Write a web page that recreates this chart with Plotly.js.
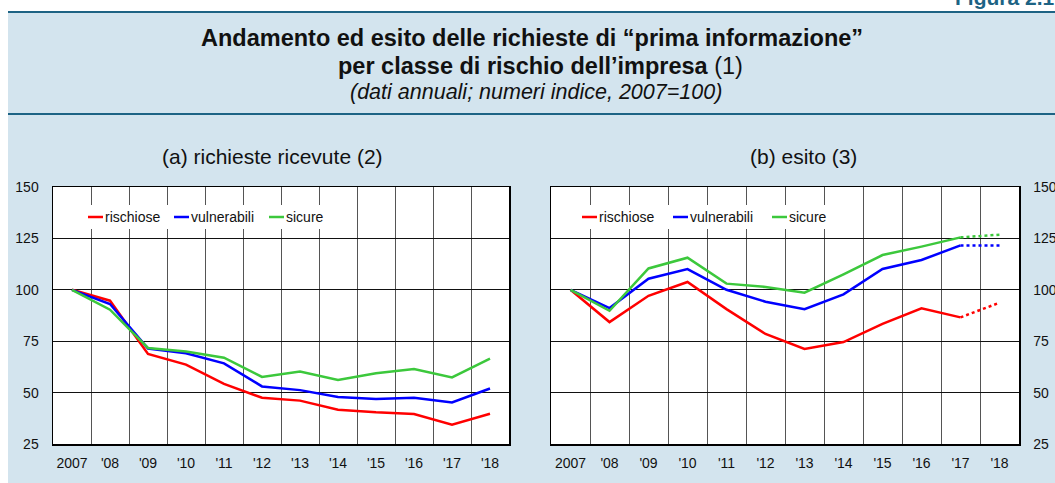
<!DOCTYPE html>
<html><head><meta charset="utf-8">
<script src="https://cdn.plot.ly/plotly-3.0.1.min.js"></script>
<style>
html,body{margin:0;padding:0;background:#fff;overflow:hidden;}
#bg{position:absolute;left:8px;top:12px;width:1047px;height:471px;background:#d3e4ee;}
#l1{position:absolute;left:8px;top:11px;width:1047px;height:2px;background:#1d6384;}
#l2{position:absolute;left:8px;top:113px;width:1047px;height:2px;background:#1d6384;}
#chart{position:absolute;left:0;top:0;width:1055px;height:483px;}
</style></head>
<body>
<div id="bg"></div><div id="l1"></div><div id="l2"></div>
<div id="chart"></div>
<script>
// ---- data ----
const years = ['2007', "'08", "'09", "'10", "'11", "'12", "'13", "'14", "'15", "'16", "'17", "'18"];
const seriesNames = ['rischiose', 'vulnerabili', 'sicure'];
const seriesColors = ['#ff0000', '#0000ff', '#3cc83c'];
// (a) richieste ricevute
const richiesteRischiose   = [100, 94.7, 68.8, 63.6, 54.2, 47.5, 46.1, 41.7, 40.4, 39.6, 34.4, 39.7];
const richiesteVulnerabili = [100, 93.1, 71.4, 69.1, 64.2, 53.0, 51.2, 47.9, 46.9, 47.5, 45.2, 52.0];
const richiesteSicure      = [100, 90.3, 71.7, 70.0, 67.0, 57.6, 60.2, 56.1, 59.4, 61.5, 57.4, 66.5];
// (b) esito (last value = provisional, dotted)
const esitoRischiose   = [100, 84.3, 97.1, 103.8, 90.6, 78.5, 71.2, 74.6, 83.4, 91.0, 86.6, 93.7];
const esitoVulnerabili = [100, 91.1, 105.4, 110.1, 100.0, 94.2, 90.6, 97.8, 110.1, 114.5, 121.6, 121.6];
const esitoSicure      = [100, 89.8, 110.4, 115.6, 103.0, 101.4, 98.6, 107.5, 116.9, 121.0, 125.5, 126.8];
const yTicks = [25, 50, 75, 100, 125, 150];
const nDefinitive = 11; // 2007-'17 solid, '17-'18 dotted

// ---- layout helpers (pixels -> paper) ----
const FW = 1055, FH = 483;
const L = 53, R = 36, T = 187, B = 39;
const W = FW - L - R, H = FH - T - B;
const fx = p => (p - L) / W;
const fy = p => 1 - (p - T) / H;
const FONT = 'Liberation Sans, Arial, Helvetica, sans-serif';
const TXT = '#111';

const richieste = [richiesteRischiose, richiesteVulnerabili, richiesteSicure];
const esito = [esitoRischiose, esitoVulnerabili, esitoSicure];
const traces = [];
richieste.forEach((arr, i) => traces.push({
  x: years, y: arr, type: 'scatter', mode: 'lines', name: seriesNames[i],
  xaxis: 'x', yaxis: 'y', line: {color: seriesColors[i], width: 2.5}, showlegend: false, hoverinfo: 'skip'
}));
esito.forEach((arr, i) => {
  traces.push({
    x: years.slice(0, nDefinitive), y: arr.slice(0, nDefinitive), type: 'scatter', mode: 'lines',
    name: seriesNames[i], xaxis: 'x2', yaxis: 'y2', line: {color: seriesColors[i], width: 2.5},
    showlegend: false, hoverinfo: 'skip'
  });
  traces.push({
    x: years.slice(nDefinitive - 1), y: arr.slice(nDefinitive - 1), type: 'scatter', mode: 'lines',
    name: seriesNames[i], xaxis: 'x2', yaxis: 'y2', line: {color: seriesColors[i], width: 2.5, dash: 'dot'},
    showlegend: false, hoverinfo: 'skip'
  });
});

const xCommon = {
  type: 'category', categoryorder: 'array', categoryarray: years, range: [-0.5, 11.5],
  tickson: 'boundaries', showgrid: true, gridcolor: '#555', gridwidth: 1, tickangle: 0,
  showline: true, mirror: true, linecolor: '#000', linewidth: 1.5, ticks: '',
  tickfont: {family: FONT, size: 14, color: TXT}, ticklabelstandoff: 6, zeroline: false, fixedrange: true
};
const yCommon = {
  range: [25, 150], tickvals: yTicks, showgrid: true, gridcolor: '#111', gridwidth: 1,
  showline: true, mirror: true, linecolor: '#000', linewidth: 1.5, ticks: '',
  tickfont: {family: FONT, size: 14, color: TXT}, ticklabelstandoff: 10, zeroline: false, fixedrange: true
};

const annotations = [];
const shapes = [];
function addText(text, px, py, size, opts) {
  annotations.push(Object.assign({
    text: text, xref: 'paper', yref: 'paper', x: fx(px), y: fy(py), showarrow: false,
    xanchor: 'center', yanchor: 'middle', font: {family: FONT, size: size, color: TXT}
  }, opts || {}));
}
addText('<b>Figura 2.1</b>', 953, 11, 21, {xanchor: 'left', yanchor: 'bottom', font: {family: FONT, size: 21, color: '#1d6384'}});
addText('<b>Andamento ed esito delle richieste di “prima informazione”</b>', 532, 38, 23.5);
addText('<b>per classe di rischio dell’impresa</b> (1)', 540, 66, 23.5);
addText('<i>(dati annuali; numeri indice, 2007=100)</i>', 536, 92, 21.5);
addText('(a) richieste ricevute (2)', 272, 156, 21);
addText('(b) esito (3)', 803, 156, 21);

// custom legends
const legends = [
  {box: [85, 332], starts: [88, 174, 269]},
  {box: [578, 836], starts: [582, 673, 772]}
];
const legY = 217, sampleLen = 15;
legends.forEach(lg => {
  shapes.push({type: 'rect', xref: 'paper', yref: 'paper', x0: fx(lg.box[0]), x1: fx(lg.box[1]),
    y0: fy(205), y1: fy(229), fillcolor: '#fff', line: {width: 0}, layer: 'above'});
  seriesNames.forEach((n, i) => {
    const s = lg.starts[i];
    shapes.push({type: 'line', xref: 'paper', yref: 'paper', x0: fx(s), x1: fx(s + sampleLen),
      y0: fy(legY), y1: fy(legY), line: {color: seriesColors[i], width: 2.5}, layer: 'above'});
    addText(n, s + sampleLen, legY, 14, {xanchor: 'left'});
  });
});

const layout = {
  width: FW, height: FH, margin: {l: L, r: R, t: T, b: B, pad: 0},
  paper_bgcolor: 'rgba(0,0,0,0)', plot_bgcolor: '#fff', showlegend: false,
  font: {family: FONT, size: 14, color: TXT},
  xaxis: Object.assign({}, xCommon, {domain: [0, fx(509)], anchor: 'y'}),
  yaxis: Object.assign({}, yCommon, {domain: [0, 1], anchor: 'x', side: 'left'}),
  xaxis2: Object.assign({}, xCommon, {domain: [fx(551), 1], anchor: 'y2'}),
  yaxis2: Object.assign({}, yCommon, {domain: [0, 1], anchor: 'x2', side: 'right'}),
  annotations: annotations, shapes: shapes
};
Plotly.newPlot('chart', traces, layout, {staticPlot: true, displayModeBar: false});
</script>
</body></html>
